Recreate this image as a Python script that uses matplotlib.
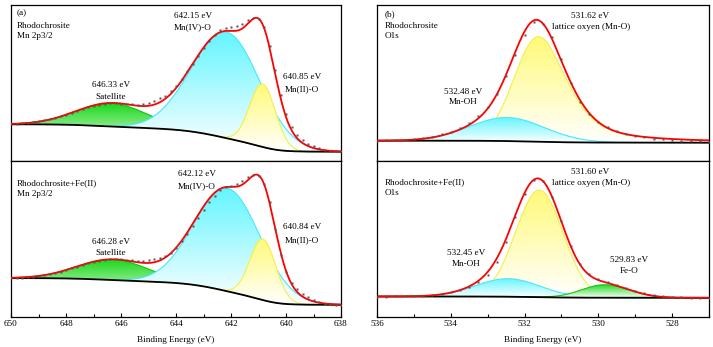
import numpy as np
import matplotlib
matplotlib.use("Agg")
import matplotlib.pyplot as plt
from matplotlib.patches import PathPatch
from matplotlib.colors import to_rgb

plt.rcParams["font.family"] = ["Liberation Serif", "DejaVu Serif"]
FS = 6.6

# ---------------- (a) Mn 2p3/2 ----------------
# fitted components: Satellite, Mn(IV)-O, Mn(II)-O  (intensity in a.u.)
MN_TOP_CENTER = [646.33, 642.15, 640.85]
MN_TOP_HEIGHT = [23.0, 106.0, 63.0]
MN_TOP_FWHM_HI = [3.04, 3.01, 1.10]   # high-BE side
MN_TOP_FWHM_LO = [3.04, 2.85, 1.10]   # low-BE side
MN_TOP_TAIL = [0.0, 0.0, 0.0]         # lorentzian share on low-BE side
MN_TOP_BG = [36.7, 9.3]               # background at 650 / 638 eV

MN_BOT_CENTER = [646.28, 642.12, 640.84]
MN_BOT_HEIGHT = [20.5, 103.0, 61.0]
MN_BOT_FWHM_HI = [3.04, 2.85, 1.10]
MN_BOT_FWHM_LO = [3.04, 2.80, 1.10]
MN_BOT_TAIL = [0.0, 0.0, 0.0]
MN_BOT_BG = [38.4, 11.7]

# measured points, 650 -> 638 eV every 0.2 eV
MN_TOP_DOTS = [37.0, 37.2, 37.6, 38.2, 38.8, 39.6, 40.6, 41.8, 43.0, 44.6,
               46.2, 48.0, 50.0, 51.8, 53.6, 55.0, 56.2, 57.0, 57.6, 57.6,
               57.4, 57.0, 56.6, 56.4, 56.8, 57.8, 60.2, 62.6, 65.4, 69.5,
               75.0, 82.0, 89.5, 97.5, 105.5, 113.0, 120.5, 126.5, 131.0, 133.0,
               134.0, 134.8, 137.5, 141.0, 143.5, 142.0, 134.5, 115.0, 90.5, 66.0,
               46.5, 34.0, 26.0, 20.8, 17.0, 14.5, 12.5, 11.2, 10.4, 9.9, 9.6]
MN_BOT_DOTS = [38.4, 38.6, 38.9, 39.3, 39.8, 40.4, 41.2, 42.2, 43.4, 44.8,
               46.4, 48.1, 49.9, 51.6, 53.3, 54.8, 56.0, 56.9, 57.4, 57.4,
               57.1, 56.7, 56.3, 56.0, 55.9, 56.2, 57.2, 58.6, 60.4, 63.8,
               69.0, 75.5, 83.0, 91.0, 99.0, 107.0, 114.5, 121.0, 126.5, 129.5,
               131.0, 132.5, 136.0, 139.5, 142.0, 141.0, 132.5, 115.0, 88.0, 62.0,
               44.5, 34.0, 27.5, 23.0, 19.5, 16.8, 14.5, 13.0, 12.2, 11.8, 11.6]

# ---------------- (b) O1s ----------------
# fitted components: Mn-OH, lattice oxygen (Mn-O), Fe-O
O_TOP_CENTER = [532.48, 531.62]
O_TOP_HEIGHT = [23.5, 105.0]
O_TOP_FWHM_HI = [2.40, 1.55]
O_TOP_FWHM_LO = [2.40, 1.80]
O_TOP_TAIL = [0.0, 0.6]
O_TOP_BG = [20.3, 18.3]

O_BOT_CENTER = [532.45, 531.60, 529.83]
O_BOT_HEIGHT = [18.0, 107.0, 13.0]
O_BOT_FWHM_HI = [2.07, 1.51, 1.46]
O_BOT_FWHM_LO = [2.07, 1.51, 1.60]
O_BOT_TAIL = [0.0, 0.0, 0.0]
O_BOT_BG = [20.0, 18.7]

# measured points, 536 -> 527 eV every 0.25 eV
O_TOP_DOTS = [20.4, 20.6, 20.9, 21.3, 21.9, 22.9, 24.4, 26.5, 29.4, 33.2,
              38.2, 44.8, 53.5, 66.5, 84.5, 106.0, 126.5, 139.5, 137.5, 124.0,
              102.0, 78.0, 58.5, 47.0, 39.0, 33.8, 30.0, 27.0, 25.0, 23.5,
              22.4, 21.5, 20.8, 20.2, 19.8, 19.5, 19.3]
O_BOT_DOTS = [19.9, 20.0, 20.1, 20.3, 20.6, 21.0, 21.7, 22.8, 24.4, 26.8,
              30.0, 34.8, 42.0, 54.5, 74.5, 99.5, 122.5, 136.5, 136.0, 120.0,
              95.5, 71.0, 53.0, 42.5, 37.2, 34.2, 31.5, 28.8, 26.0, 23.6,
              21.6, 20.3, 19.6, 19.2, 19.0, 18.9, 18.8]

CYAN = "#64F5FF"
YELLOW = "#FFFA78"
GREEN = "#18D818"
LINE = {CYAN: "#48E6FF", YELLOW: "#F2F04A", GREEN: "#10C810"}

W, H = 713, 347


def peak(x, c, h, f_hi, f_lo, m):
    f = np.where(x >= c, f_hi, f_lo)
    m = np.where(x >= c, 0.0, m)
    d2 = (x - c) ** 2
    g = np.exp(-4 * np.log(2) * d2 / f ** 2)
    lor = 1 / (1 + 4 * d2 / f ** 2)
    return h * ((1 - m) * g + m * lor)


def shirley(x, total, bg_hi, bg_lo):
    # x ascending; cumulative peak area from the low-BE end
    cum = np.cumsum(total)
    cum = cum - cum[0]
    return bg_lo + (bg_hi - bg_lo) * cum / cum[-1]


def grad_fill(ax, x, lo, hi, color, z):
    poly = ax.fill_between(x, lo, hi, facecolor="none", edgecolor="none")
    patch = PathPatch(poly.get_paths()[0], transform=ax.transData,
                      facecolor="none", edgecolor="none")
    ax.add_patch(patch)
    g = np.linspace(0, 1, 256)[:, None, None]
    rgb = np.array(to_rgb(color))[None, None, :]
    img = np.repeat((1 - g) + g * rgb, 2, axis=1)
    im = ax.imshow(img, extent=[x.min(), x.max(), lo.min(), hi.max()],
                   origin="lower", aspect="auto", zorder=z, interpolation="bilinear")
    im.set_clip_path(patch)
    ax.plot(x, hi, color=LINE[color], lw=0.8, zorder=z + 0.1)


def draw_panel(ax, xr, pars, bg_ends, colors, order, dots, ylim):
    x = np.linspace(xr[1], xr[0], 1200)
    comps = [peak(x, *p) for p in zip(*pars)]
    total = np.sum(comps, axis=0)
    bg = shirley(x, total, bg_ends[0], bg_ends[1])
    for k, i in enumerate(order):
        grad_fill(ax, x, bg, bg + comps[i], colors[i], 2 + k)
    ax.plot(x, bg, color="black", lw=1.3, zorder=10)
    ax.plot(x, bg + total, color="#FF0000", lw=1.3, zorder=11)
    xd = np.linspace(xr[0], xr[1], len(dots))
    ax.plot(xd, dots, ls="none", marker="s", ms=1.8, color="#555555", mec="none", zorder=12)
    ax.set_xlim(*xr)
    ax.set_ylim(*ylim)
    ax.set_yticks([])
    for s in ax.spines.values():
        s.set_linewidth(0.9)


fig = plt.figure(figsize=(W / 100, H / 100), dpi=100)


def ax_at(x0, y0, x1, y1):
    return fig.add_axes([x0 / W, 1 - y1 / H, (x1 - x0) / W, (y1 - y0) / H])


ax_a1 = ax_at(11, 5, 341, 161)
ax_a2 = ax_at(11, 161, 341, 316.5)
ax_b1 = ax_at(377, 5, 709, 161)
ax_b2 = ax_at(377, 161, 709, 316.5)

draw_panel(ax_a1, (650, 638),
           (MN_TOP_CENTER, MN_TOP_HEIGHT, MN_TOP_FWHM_HI, MN_TOP_FWHM_LO, MN_TOP_TAIL),
           MN_TOP_BG, [GREEN, CYAN, YELLOW], [0, 1, 2], MN_TOP_DOTS, (0, 156))
draw_panel(ax_a2, (650, 638),
           (MN_BOT_CENTER, MN_BOT_HEIGHT, MN_BOT_FWHM_HI, MN_BOT_FWHM_LO, MN_BOT_TAIL),
           MN_BOT_BG, [GREEN, CYAN, YELLOW], [0, 1, 2], MN_BOT_DOTS, (0, 155.5))
draw_panel(ax_b1, (536, 527),
           (O_TOP_CENTER, O_TOP_HEIGHT, O_TOP_FWHM_HI, O_TOP_FWHM_LO, O_TOP_TAIL),
           O_TOP_BG, [CYAN, YELLOW], [1, 0], O_TOP_DOTS, (0, 156))
draw_panel(ax_b2, (536, 527),
           (O_BOT_CENTER, O_BOT_HEIGHT, O_BOT_FWHM_HI, O_BOT_FWHM_LO, O_BOT_TAIL),
           O_BOT_BG, [CYAN, YELLOW, GREEN], [1, 0, 2], O_BOT_DOTS, (0, 155.5))

for ax in (ax_a1, ax_b1):
    ax.set_xticks([])
ax_a2.set_xticks([650, 648, 646, 644, 642, 640, 638])
ax_a2.set_xticks([649, 647, 645, 643, 641, 639], minor=True)
ax_b2.set_xticks([536, 534, 532, 530, 528])
ax_b2.set_xticks([535, 533, 531, 529, 527], minor=True)
for ax in (ax_a2, ax_b2):
    ax.tick_params(axis="x", which="major", direction="in", length=3, width=0.8, labelsize=FS, pad=2.5)
    ax.tick_params(axis="x", which="minor", direction="in", length=2, width=0.8)


def t(px, py, s, ha="center"):
    fig.text(px / W, 1 - py / H, s, ha=ha, va="center", fontsize=FS)


t(17, 13.5, "(a)", "left")
t(17, 25.5, "Rhodochrosite", "left")
t(17, 36, "Mn 2p3/2", "left")
t(193, 15.7, "642.15 eV")
t(193, 26.7, "Mn(IV)-O")
t(301.7, 77.3, "640.85 eV")
t(301.7, 89.3, "Mn(II)-O")
t(111, 85, "646.33 eV")
t(111, 96.7, "Satellite")

t(17, 182.7, "Rhodochrosite+Fe(II)", "left")
t(17, 194, "Mn 2p3/2", "left")
t(197, 174, "642.12 eV")
t(197, 185.7, "Mn(IV)-O")
t(301.7, 227.3, "640.84 eV")
t(301.7, 240, "Mn(II)-O")
t(111, 241.7, "646.28 eV")
t(111, 253.3, "Satellite")

t(385, 14, "(b)", "left")
t(385, 25.7, "Rhodochrosite", "left")
t(385, 36, "O1s", "left")
t(590, 15.7, "531.62 eV")
t(591, 27.3, "lattice oxyen (Mn-O)")
t(463.3, 91.7, "532.48 eV")
t(463.3, 101.7, "Mn-OH")

t(385, 182.3, "Rhodochrosite+Fe(II)", "left")
t(385, 193.3, "O1s", "left")
t(590, 171.5, "531.60 eV")
t(591, 182.7, "lattice oxyen (Mn-O)")
t(466, 253.3, "532.45 eV")
t(466, 264.3, "Mn-OH")
t(629.3, 260, "529.83 eV")
t(629.3, 270.7, "Fe-O")

t(176, 340, "Binding Energy (eV)")
t(543, 340, "Binding Energy (eV)")

fig.savefig("out.png", dpi=100)
